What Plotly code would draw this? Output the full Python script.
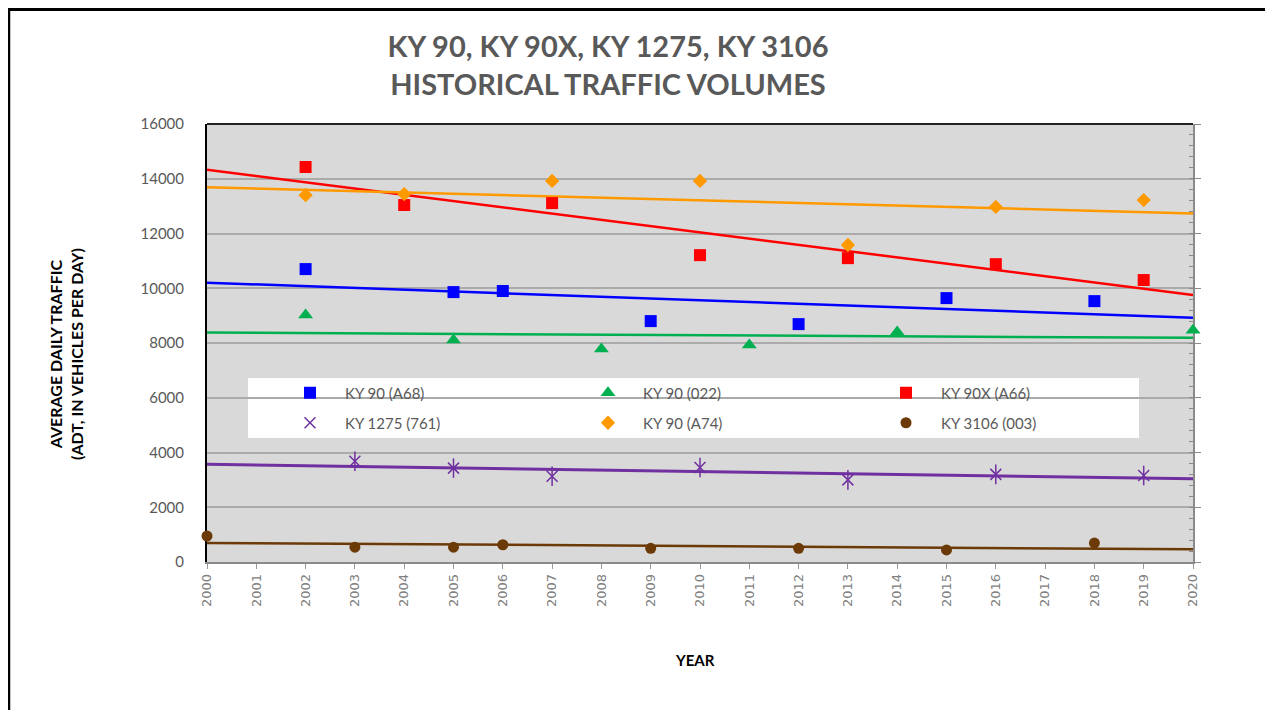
import numpy as np
import plotly.graph_objects as go

# ---- data ----
years_a68 = [2002, 2005, 2006, 2009, 2012, 2015, 2018]
adt_a68 = [10700, 9860, 9900, 8800, 8690, 9640, 9530]

years_022 = [2002, 2005, 2008, 2011, 2014, 2020]
adt_022 = [9020, 8110, 7780, 7930, 8400, 8470]

years_a66 = [2002, 2004, 2007, 2010, 2013, 2016, 2019]
adt_a66 = [14430, 13040, 13110, 11210, 11100, 10880, 10300]

years_761 = [2003, 2005, 2007, 2010, 2013, 2016, 2019]
adt_761 = [3680, 3430, 3130, 3450, 3000, 3200, 3160]

years_a74 = [2002, 2004, 2007, 2010, 2013, 2016, 2019]
adt_a74 = [13400, 13440, 13920, 13920, 11580, 12970, 13220]

years_003 = [2000, 2003, 2005, 2006, 2009, 2012, 2015, 2018]
adt_003 = [950, 540, 540, 630, 500, 500, 440, 690]

year_ticks = list(range(2000, 2021))
trend_span = [2000, 2020]

series = [
    ("KY 90 (A68)", years_a68, adt_a68, "#0000ff", "square", 12, "legend"),
    ("KY 90 (022)", years_022, adt_022, "#00b050", "triangle-up", 13, "legend"),
    ("KY 90X (A66)", years_a66, adt_a66, "#ff0000", "square", 12, "legend"),
    ("KY 1275 (761)", years_761, adt_761, "#7030a0", "x-thin-open", 11, "legend2"),
    ("KY 90 (A74)", years_a74, adt_a74, "#ff9900", "diamond", 11, "legend2"),
    ("KY 3106 (003)", years_003, adt_003, "#6b3a07", "circle", 11, "legend2"),
]

fig = go.Figure()

# trend lines (least squares, like Excel's linear trendline)
for name, xs, ys, color, sym, size, lg in series:
    k, b = np.polyfit(xs, ys, 1)
    fig.add_trace(go.Scatter(
        x=trend_span, y=[k * t + b for t in trend_span], mode="lines",
        line=dict(color=color, width=3 if sym == "x-thin-open" else 2.5),
        showlegend=False, hoverinfo="skip", cliponaxis=False))

for name, xs, ys, color, sym, size, lg in series:
    marker = dict(color=color, symbol=sym, size=size)
    if sym == "x-thin-open":
        marker["line"] = dict(color=color, width=1.5)
        # vertical stroke that turns the x into Excel's star marker
        fig.add_trace(go.Scatter(
            x=xs, y=ys, mode="markers", showlegend=False, hoverinfo="skip",
            marker=dict(symbol="line-ns-open", size=14, color=color,
                        line=dict(color=color, width=1.5)),
            cliponaxis=False))
    fig.add_trace(go.Scatter(
        x=xs, y=ys, mode="markers", name=name, marker=marker,
        legend=lg, cliponaxis=False))

# dummy trace to anchor the right-hand axis
fig.add_trace(go.Scatter(x=[None], y=[None], yaxis="y2", showlegend=False, hoverinfo="skip"))

# page offset of the figure inside the browser (body margin)
OX, OY = 8, 8
W, H = 1265, 702
L, T = 199, 116
pw, ph = 986, 438
R, B = W - L - pw, H - T - ph


def px_x(p):  # screen pixel -> paper x
    return (p - OX - L) / pw


def px_y(p):  # screen pixel -> paper y
    return (T + ph - (p - OY)) / ph


legend_common = dict(
    orientation="h", bgcolor="rgba(0,0,0,0)",
    font=dict(family="Lato", size=15, color="#595959"),
    itemwidth=60, entrywidth=223, entrywidthmode="pixels",
    xanchor="left", yanchor="middle", x=px_x(275),
)

fig.update_layout(
    width=W, height=H,
    margin=dict(l=L, r=R, t=T, b=B),
    paper_bgcolor="white", plot_bgcolor="#d9d9d9",
    title=dict(
        text="KY 90, KY 90X, KY 1275, KY 3106<br>HISTORICAL TRAFFIC VOLUMES",
        font=dict(family="Lato", size=29, color="#595959", weight="bold"),
        x=(608 - OX) / W, xanchor="center", xref="container",
        y=1 - 49 / H, yanchor="middle", yref="container"),
    legend=dict(**legend_common, y=px_y(393)),
    legend2=dict(**legend_common, y=px_y(423)),
    xaxis=dict(
        range=[2000, 2020], tickvals=year_ticks, ticktext=[str(y) for y in year_ticks],
        tickangle=-90, tickfont=dict(family="DejaVu Sans", size=13, color="#808080"),
        ticks="outside", ticklen=5, tickcolor="#9a9a9a",
        showline=True, linecolor="#8a8a8a", linewidth=1.5,
        showgrid=False, zeroline=False, layer="below traces"),
    yaxis=dict(
        range=[0, 16000], dtick=2000, tickformat="d",
        tickfont=dict(family="Lato", size=15, color="#595959"),
        ticklabelstandoff=18,
        showline=True, linecolor="black", linewidth=2,
        showgrid=True, gridcolor="#ababab", gridwidth=1.5,
        zeroline=False, layer="below traces"),
    yaxis2=dict(
        overlaying="y", side="right", anchor="x", range=[0, 16000],
        dtick=2000, showticklabels=False, showgrid=False, zeroline=False,
        ticks="outside", ticklen=6, tickcolor="#8a8a8a",
        minor=dict(ticks="inside", dtick=400, ticklen=4, tickcolor="#8a8a8a"),
        showline=True, linecolor="#8a8a8a", linewidth=1.5, layer="below traces"),
    annotations=[
        dict(text="AVERAGE DAILY TRAFFIC<br>(ADT, IN VEHICLES PER DAY)",
             textangle=-90, xref="paper", yref="paper",
             x=px_x(66), y=px_y(354), xanchor="center", yanchor="middle",
             showarrow=False, align="center",
             font=dict(family="Lato", size=16, color="black", weight="bold")),
        dict(text="YEAR", xref="paper", yref="paper",
             x=px_x(695), y=px_y(660), xanchor="center", yanchor="middle",
             showarrow=False,
             font=dict(family="Lato", size=15, color="black", weight="bold")),
    ],
    shapes=[
        # white legend panel behind the legend entries (covers gridline)
        dict(type="rect", xref="paper", yref="paper",
             x0=px_x(248), x1=px_x(1139), y0=px_y(438), y1=px_y(378),
             fillcolor="white", line=dict(width=0), layer="between"),
        # dark top border of the plot area
        dict(type="line", xref="paper", yref="paper", x0=0, x1=1, y0=1, y1=1,
             line=dict(color="#222222", width=2)),
        # outer frame of the picture
        dict(type="line", xref="paper", yref="paper",
             x0=px_x(7), x1=px_x(1273), y0=px_y(9.5), y1=px_y(9.5),
             line=dict(color="black", width=3)),
        dict(type="line", xref="paper", yref="paper",
             x0=px_x(9), x1=px_x(9), y0=px_y(8), y1=px_y(712),
             line=dict(color="black", width=2.5)),
        dict(type="line", xref="paper", yref="paper",
             x0=px_x(1271.5), x1=px_x(1271.5), y0=px_y(8), y1=px_y(712),
             line=dict(color="#777777", width=1)),
    ],
)

fig.write_html("out.html")
